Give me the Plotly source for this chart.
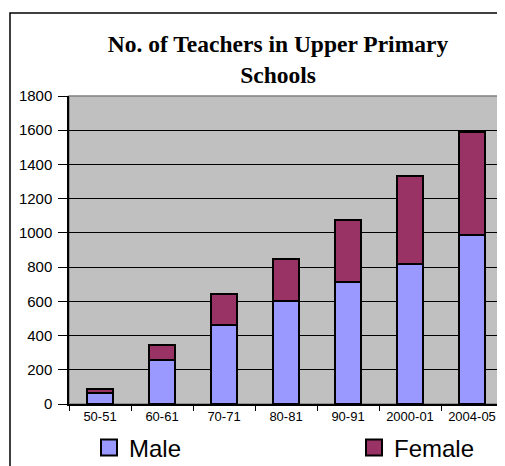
import plotly.graph_objects as go

years = ["50-51", "60-61", "70-71", "80-81", "90-91", "2000-01", "2004-05"]
male = [65, 260, 460, 600, 715, 820, 990]
female = [20, 85, 180, 250, 360, 510, 600]
y_ticks = [0, 200, 400, 600, 800, 1000, 1200, 1400, 1600, 1800]

# page body has an 8px margin, so work in page pixels minus 8
OFF = 8
W, H = 505 - OFF, 466 - OFF
L, R, T, B = 69 - OFF, 2, 96 - OFF, 62
pw, ph = W - L - R, H - T - B

def px_x(x):
    return (x - OFF - L) / pw

def px_y(y):
    return (H - B - (y - OFF)) / ph

fig = go.Figure()
fig.add_trace(go.Bar(x=years, y=male, name="Male", showlegend=False,
                     marker=dict(color="#9999FF", line=dict(color="black", width=2))))
fig.add_trace(go.Bar(x=years, y=female, name="Female", showlegend=False,
                     marker=dict(color="#993366", line=dict(color="black", width=2))))
# legend entries with big square keys like the Excel legend, one legend each
for name, col, lg in [("Male", "#9999FF", "legend"), ("Female", "#993366", "legend2")]:
    fig.add_trace(go.Scatter(x=[None], y=[None], mode="markers", name=name, legend=lg,
                             marker=dict(symbol="square", size=17, color=col,
                                         line=dict(color="black", width=2))))

leg = dict(xref="container", yref="container", xanchor="left", yanchor="middle",
           y=1 - (448 - OFF) / H, font=dict(size=24), bgcolor="rgba(0,0,0,0)",
           itemwidth=30)

fig.update_layout(
    width=W, height=H,
    margin=dict(l=L, r=R, t=T, b=B, autoexpand=False),
    barmode="stack", bargap=0.58,
    paper_bgcolor="white", plot_bgcolor="#C0C0C0",
    font=dict(family="Liberation Sans, Arial", color="black"),
    title=dict(text="<b>No. of Teachers in Upper Primary<br>Schools</b>",
               x=(278 - OFF) / W, xanchor="center",
               y=1 - (52 - OFF) / H, yanchor="middle",
               font=dict(family="Liberation Serif, Times New Roman", size=23.5)),
    legend=dict(leg, x=(89 - OFF) / W),
    legend2=dict(leg, x=(354 - OFF) / W),
    xaxis=dict(type="category", showline=True, linecolor="black", linewidth=1.5,
               ticks="outside", tickson="boundaries", ticklen=5, tickcolor="black",
               tickfont=dict(family="Liberation Sans, Arial", size=13),
               showgrid=False, automargin=False),
    yaxis=dict(range=[0, 1800], tickmode="array", tickvals=y_ticks, showline=True,
               linecolor="black", linewidth=1.5, ticks="outside", ticklen=9,
               tickcolor="black", tickfont=dict(family="Liberation Sans, Arial", size=15),
               ticklabelstandoff=3,
               showgrid=True, gridcolor="black", gridwidth=1,
               zeroline=False, automargin=False),
)

# plot area border (grey) and outer chart frame
fig.add_shape(type="rect", xref="paper", yref="paper", x0=0, y0=0, x1=1, y1=1,
              line=dict(color="#808080", width=1.5), layer="below")
fig.add_shape(type="path", xref="paper", yref="paper",
              path=f"M {px_x(10)},{px_y(470)} L {px_x(10)},{px_y(13)} L {px_x(504)},{px_y(13)} L {px_x(504)},{px_y(470)}",
              line=dict(color="black", width=1.5))

fig.write_html("out.html")
